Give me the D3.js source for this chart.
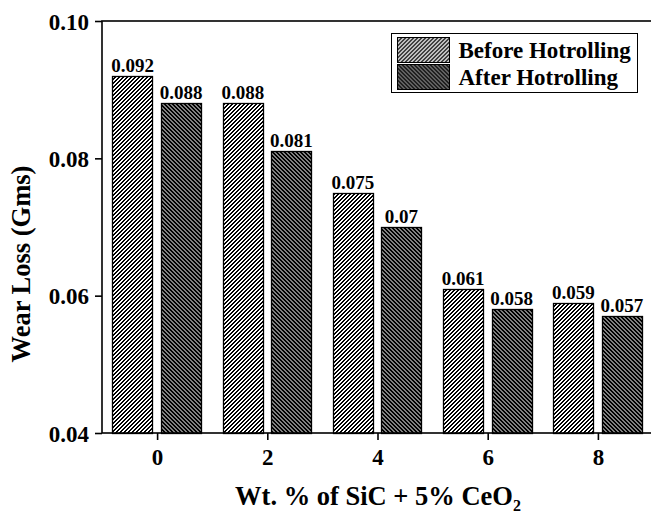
<!DOCTYPE html>
<html>
<head>
<meta charset="utf-8">
<script src="https://cdn.jsdelivr.net/npm/d3@7"></script>
<style>
  body { margin: 0; background: #fff; }
  svg { display: block; font-family: "Liberation Serif", "Times New Roman", serif; font-weight: bold; }
</style>
</head>
<body>
<svg width="651" height="519"></svg>
<script>
var categories = [0, 2, 4, 6, 8];
var beforeVals = [0.092, 0.088, 0.075, 0.061, 0.059];
var afterVals = [0.088, 0.081, 0.07, 0.058, 0.057];
var yTicks = [0.04, 0.06, 0.08, 0.10];
var seriesNames = ["Before Hotrolling", "After Hotrolling"];

var svg = d3.select("svg"),
    pLeft = 102, pRight = 653, pTop = 21, pBottom = 433;

var x = d3.scaleLinear().domain([-1, 9]).range([pLeft, pRight]);
var y = d3.scaleLinear().domain([0.04, 0.10]).range([pBottom, pTop]);

// pixel hatch patterns, 4px period, 2px black per row
var defs = svg.append("defs");
function hatch(id, forward, bg) {
  var p = defs.append("pattern")
      .attr("id", id)
      .attr("patternUnits", "userSpaceOnUse")
      .attr("width", 4).attr("height", 4);
  p.append("rect").attr("width", 4).attr("height", 4).attr("fill", bg);
  d3.range(4).forEach(function(r) {
    var c0 = forward ? (3 - r) : r;
    [c0, (c0 + 1) % 4].forEach(function(c) {
      p.append("rect").attr("x", c).attr("y", r).attr("width", 1).attr("height", 1)
          .attr("fill", "#000").attr("shape-rendering", "crispEdges");
    });
  });
}
hatch("hBefore", true, "#fff");
hatch("hAfter", false, "#808080");

var series = [
  { name: seriesNames[0], values: beforeVals, fill: "url(#hBefore)", off: -0.81 },
  { name: seriesNames[1], values: afterVals, fill: "url(#hAfter)", off: 0.07 }
];
var barW = 0.73; // in x units

series.forEach(function(s) {
  var g = svg.append("g");
  g.selectAll("rect")
    .data(s.values)
    .enter().append("rect")
      .attr("x", function(d, i) { return Math.round(x(categories[i] + s.off)) + 0.5; })
      .attr("y", function(d) { return Math.round(y(d)) + 0.5; })
      .attr("width", Math.round(x(barW) - x(0)))
      .attr("height", function(d) { return pBottom - Math.round(y(d)); })
      .attr("fill", s.fill)
      .attr("stroke", "#000")
      .attr("stroke-width", 1.3);
  g.selectAll("text")
    .data(s.values)
    .enter().append("text")
      .attr("x", function(d, i) { return x(categories[i] + s.off + barW / 2); })
      .attr("y", function(d) { return y(d) - 4; })
      .attr("text-anchor", "middle")
      .attr("font-size", 19)
      .text(function(d) { return String(d); });
});

// frame
svg.append("rect")
    .attr("x", pLeft).attr("y", pTop)
    .attr("width", pRight - pLeft).attr("height", pBottom - pTop)
    .attr("fill", "none").attr("stroke", "#000").attr("stroke-width", 1.6);

// axes
var yAxis = svg.append("g")
    .attr("transform", "translate(" + pLeft + ",0)")
    .call(d3.axisLeft(y).tickValues(yTicks).tickFormat(d3.format(".2f")).tickSize(7).tickPadding(6));
var xAxis = svg.append("g")
    .attr("transform", "translate(0," + pBottom + ")")
    .call(d3.axisBottom(x).tickValues(categories).tickSize(7).tickPadding(9));
[yAxis, xAxis].forEach(function(a) {
  a.select(".domain").remove();
  a.selectAll("line").attr("stroke", "#000").attr("stroke-width", 1.6);
  a.selectAll("text").attr("font-size", 23).attr("font-family", "Liberation Serif").attr("font-weight", "bold").attr("fill", "#000");
});
yAxis.selectAll("text").attr("dy", "0.35em");

// axis titles
svg.append("text")
    .attr("transform", "translate(30," + ((pTop + pBottom) / 2 + 37) + ") rotate(-90)")
    .attr("text-anchor", "middle")
    .attr("font-size", 26.5)
    .text("Wear Loss (Gms)");

var xt = svg.append("text")
    .attr("x", 378).attr("y", 505)
    .attr("text-anchor", "middle")
    .attr("font-size", 26.5);
xt.append("tspan").text("Wt. % of SiC + 5% CeO");
xt.append("tspan").attr("font-size", 16).attr("dy", 6).text("2");

// legend
var lg = svg.append("g").attr("transform", "translate(391.5,33.5)");
lg.append("rect").attr("width", 246).attr("height", 59)
    .attr("fill", "#fff").attr("stroke", "#000").attr("stroke-width", 1);
series.forEach(function(s, i) {
  var row = lg.append("g").attr("transform", "translate(6," + (4 + i * 27) + ")");
  row.append("rect").attr("width", 52).attr("height", 25)
      .attr("fill", s.fill).attr("stroke", "#000").attr("stroke-width", 1);
  row.append("text").attr("x", 61).attr("y", 20)
      .attr("font-size", 23).text(s.name);
});
</script>
</body>
</html>
